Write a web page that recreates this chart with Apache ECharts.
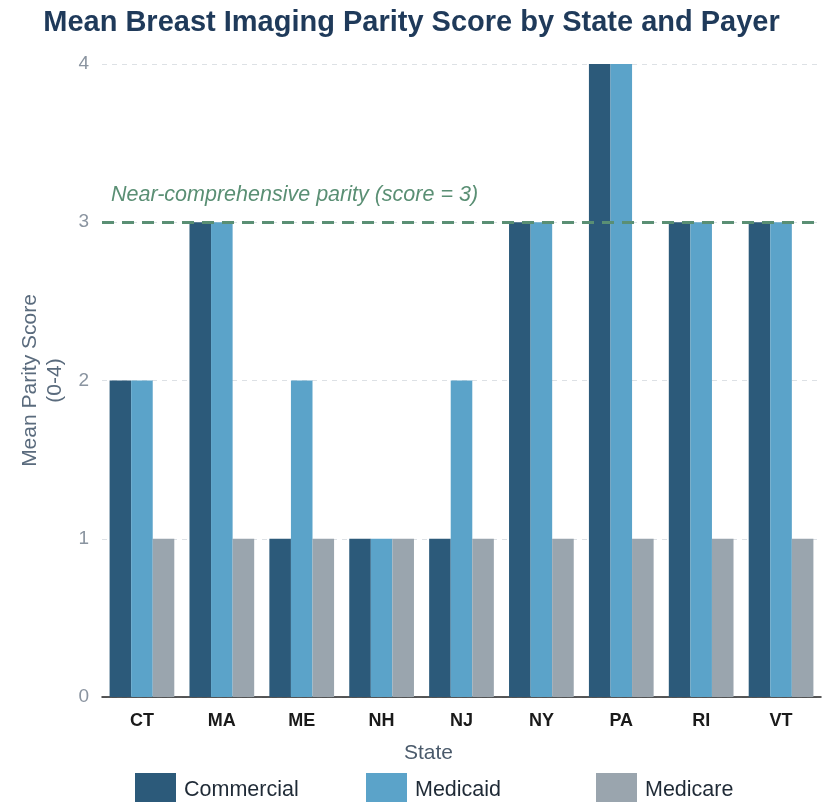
<!DOCTYPE html>
<html><head><meta charset="utf-8">
<script src="https://cdn.jsdelivr.net/npm/echarts@6/dist/echarts.min.js"></script>
<style>html,body{margin:0;padding:0;background:#fff}#c{width:823px;height:802px}</style>
</head><body><div id="c"></div>
<script>
const states = ['CT','MA','ME','NH','NJ','NY','PA','RI','VT'];
const commercial = [2,3,1,1,1,3,4,3,3];
const medicaid = [2,3,2,1,2,3,4,3,3];
const medicare = [1,1,1,1,1,1,1,1,1];
const yTicks = [0,1,2,3,4];
const payers = ['Commercial','Medicaid','Medicare'];
const thresholdValue = 3;
const thresholdLabel = 'Near-comprehensive parity (score = 3)';

const FONT = 'Liberation Sans, Arial, sans-serif';
const chart = echarts.init(document.getElementById('c'));
const mk = (name, data, color) => ({
  name, type:'bar', data, barGap:'0%', barCategoryGap:'19%',
  itemStyle:{color}
});
const s1 = mk(payers[0], commercial, '#2c5a7a');
s1.markLine = {
  symbol:'none', silent:true,
  lineStyle:{color:'#5a8f74', type:[12,8], width:2.8},
  label:{show:true, position:'insideStartTop', formatter:thresholdLabel, color:'#5a8f74', fontStyle:'italic', fontSize:21.5, fontFamily:FONT, distance:[9,16]},
  data:[{yAxis:thresholdValue}]
};
const legendLefts = [135, 366, 596];
const legends = payers.map((p,i)=>({
  top:773, left:legendLefts[i], padding:0, itemWidth:41, itemHeight:34, icon:'rect', itemGap:0,
  textStyle:{fontSize:21.5, color:'#1f2a36', fontFamily:FONT, padding:[0,0,0,3]},
  data:[p]
}));
chart.setOption({
  animation:false,
  title:{text:'Mean Breast Imaging Parity Score by State and Payer', left:'center', top:3,
    textStyle:{fontSize:29, fontWeight:'bold', color:'#1f3a5a', fontFamily:'Liberation Sans Narrow, Arial Narrow, Liberation Sans, sans-serif'}},
  grid:{left:102, right:2, top:64, bottom:105},
  legend:legends,
  xAxis:{type:'category', data:states, name:'State', nameLocation:'middle', nameGap:46,
    nameTextStyle:{fontSize:21, color:'#4a5a6b', fontFamily:FONT, padding:[0,66,0,0]},
    axisLine:{lineStyle:{color:'#222', width:1.5}}, axisTick:{show:false},
    axisLabel:{fontSize:18, fontWeight:'bold', color:'#1a1a1a', margin:15, fontFamily:FONT}},
  yAxis:{type:'value', min:yTicks[0], max:yTicks[yTicks.length-1], interval:1,
    name:'Mean Parity Score\n(0-4)', nameLocation:'middle', nameGap:27,
    nameTextStyle:{fontSize:21, color:'#5a6b7d', lineHeight:25, fontFamily:FONT},
    axisLine:{show:false}, axisTick:{show:false},
    axisLabel:{fontSize:19, color:'#8a94a0', margin:13, fontFamily:FONT},
    splitLine:{lineStyle:{color:'#dde1e5', type:[5,5]}}},
  series:[s1, mk(payers[1], medicaid, '#5ba3c9'), mk(payers[2], medicare, '#9aa5ae')]
});
</script></body></html>
